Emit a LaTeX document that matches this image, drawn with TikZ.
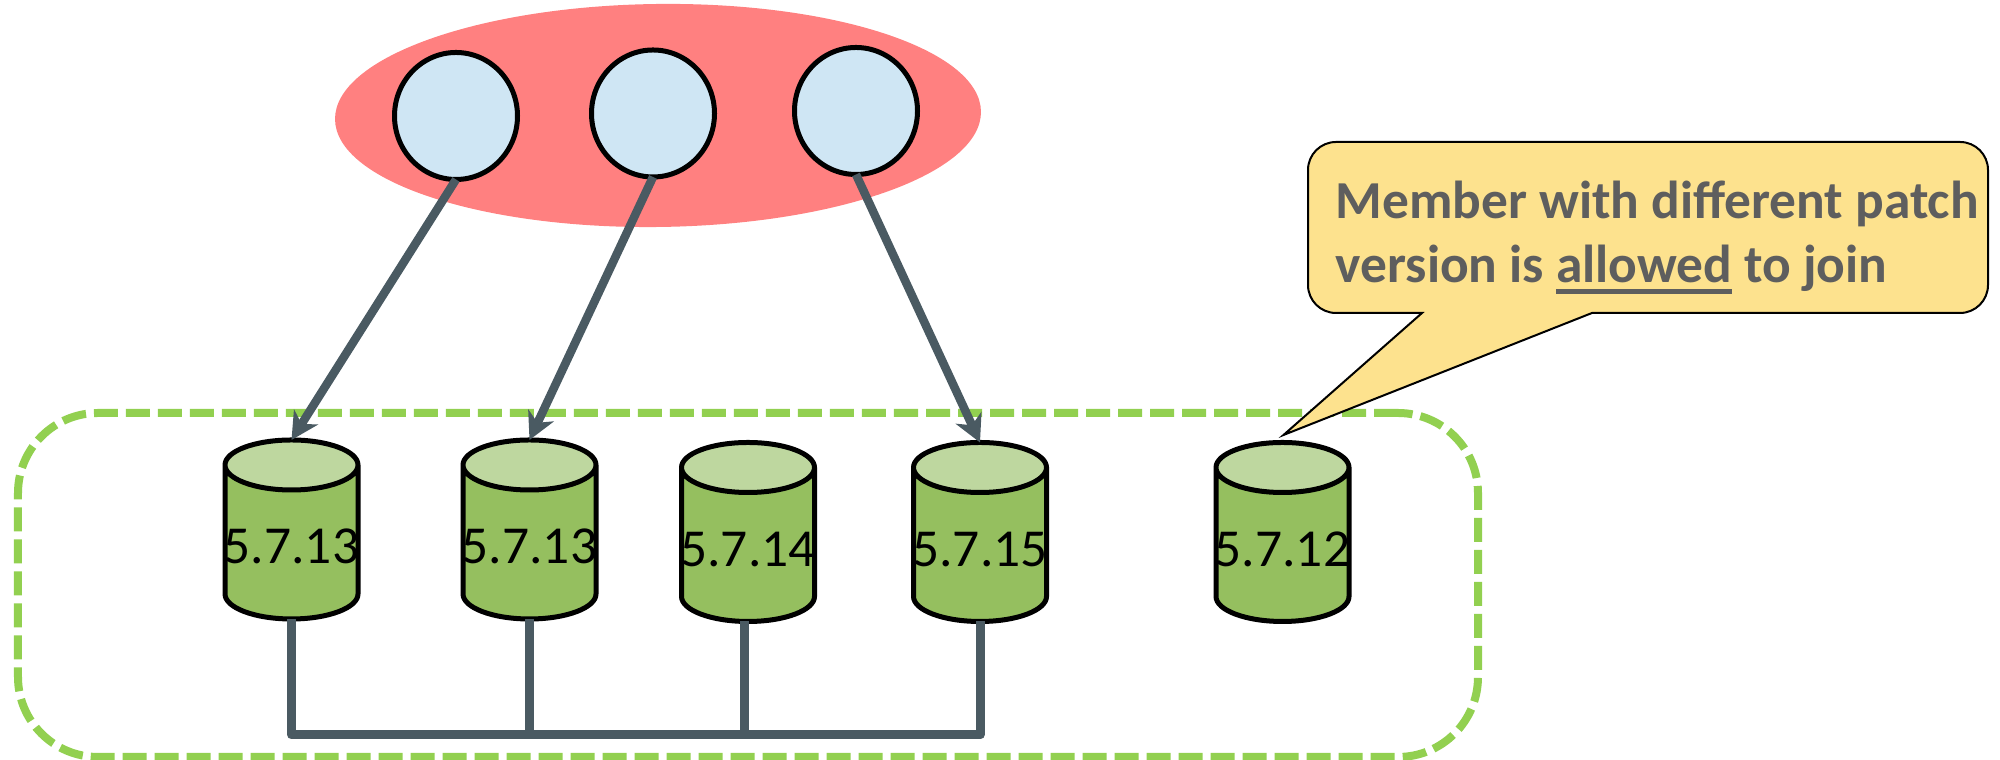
\documentclass[tikz,border=0pt]{standalone}
\usepackage{fontspec}
\setmainfont{Carlito}
\usetikzlibrary{arrows.meta,shapes.geometric}
\definecolor{groupred}{HTML}{FF8080}
\definecolor{memberblue}{HTML}{CFE6F4}
\definecolor{dbbody}{HTML}{95BF5F}
\definecolor{dbtop}{HTML}{BED79F}
\definecolor{noteyellow}{HTML}{FDE28E}
\definecolor{notegray}{HTML}{5E5E5E}
\definecolor{slate}{HTML}{4A5A62}
\definecolor{dashgreen}{HTML}{92D050}
\newcommand{\thickul}[1]{\setbox0=\hbox{#1}\rlap{\raisebox{-3.4pt}{\rule{\wd0}{1.4pt}}}\box0\relax}
\begin{document}
\begin{tikzpicture}[arrow/.style={draw=slate,line width=0.085cm,-{Stealth[length=0.27cm,width=0.28cm,inset=0.08cm]}},
bus/.style={draw=slate,line width=0.09cm,line join=round},
member/.style={ellipse,draw=black,line width=0.05cm,fill=memberblue,inner sep=0,outer sep=0,minimum width=1.23cm,minimum height=1.27cm},
db/.style={cylinder,shape border rotate=90,draw=black,line width=0.05cm,aspect=0.376,inner xsep=0.665cm,inner ysep=0,outer sep=0,anchor=shape center,
 cylinder uses custom fill,cylinder body fill=dbbody,cylinder end fill=dbtop,minimum width=1.33cm,minimum height=1.79cm},
version/.style={font=\fontsize{15.2}{17}\selectfont,text=black,inner sep=0,yshift=0.09cm}]
\useasboundingbox (0,0) rectangle (20,7.6);
\node[ellipse,fill=groupred,inner sep=0,minimum width=6.46cm,minimum height=2.23cm,rotate=0.7] at (6.58,6.445) (group) {};
\node[member] at (4.56,6.44) (mem1) {};
\node[member] at (6.53,6.465) (mem2) {};
\node[member] at (8.56,6.49) (mem3) {};
\node[db,label={[version]center:5.7.13}] at (2.915,2.305) (db1) {};
\node[db,label={[version]center:5.7.13}] at (5.295,2.305) (db2) {};
\node[db,label={[version]center:5.7.14}] at (7.48,2.28) (db3) {};
\node[db,label={[version]center:5.7.15}] at (9.80,2.28) (db4) {};
\node[db,label={[version]center:5.7.12}] at (12.825,2.28) (db5) {};
\node[rectangle,draw=dashgreen,line width=0.08cm,dash pattern=on 0.24cm off 0.08cm,rounded corners=0.8cm,
 inner sep=0,outer sep=0,minimum width=14.6cm,minimum height=3.44cm] at (7.48,1.75) (cluster) {};
\coordinate (bus1) at (2.915,0.25);
\coordinate (bus2) at (5.295,0.25);
\coordinate (bus3) at (7.44,0.25);
\coordinate (bus4) at (9.80,0.25);
\draw[arrow] (mem1.south) to (db1.north);
\draw[arrow] (mem2.south) to (db2.north);
\draw[arrow] (mem3.south) to (db4.north);
\draw[bus] (db1.south) -- (bus1) -- (bus4) -- (db4.south);
\draw[bus] (db2.south) -- (bus2);
\draw[bus] (bus3 |- db3.south) -- (bus3);
\draw[fill=noteyellow,draw=black,line width=0.02cm] (14.22,4.47) [rounded corners=0.28cm] -- (13.08,4.47) -- (13.08,6.18) -- (19.88,6.18) -- (19.88,4.47) [sharp corners] -- (15.92,4.47) -- (12.835,3.25) -- cycle;
\node[anchor=north west,align=left,inner sep=0,text=notegray,font=\bfseries\fontsize{15.2}{18.2}\selectfont] at (13.35,5.8) (note) {Member with different patch\\version is \thickul{allowed} to join};
\end{tikzpicture}
\end{document}
